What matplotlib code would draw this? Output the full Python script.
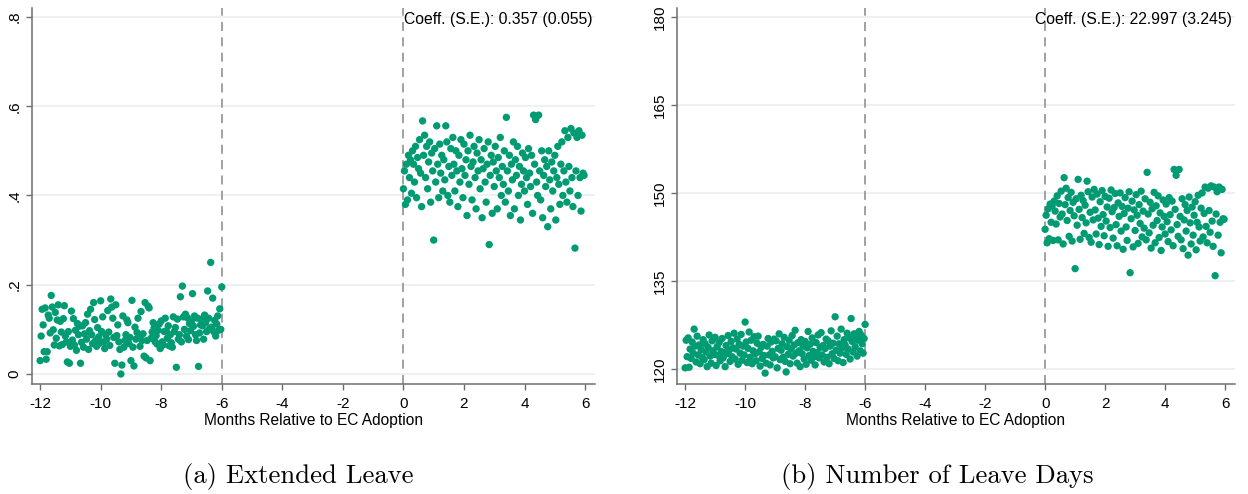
"""
Scatter of daily outcomes around EC adoption (two panels)
"""
import numpy as np
import matplotlib
matplotlib.use("Agg")
import matplotlib.pyplot as plt

# --- data ------------------------------------------------------------------
# days relative to adoption, expressed in months (30 days = 1 month)
x_pre = np.arange(-360, -179) / 30.0      # -12 ... -6
x_post = np.arange(0, 180) / 30.0         # 0 ... 5.97

# panel (a): share taking extended leave
share_pre = [
    0.030, 0.085, 0.145, 0.110, 0.050, 0.148, 0.033, 0.050, 0.132, 0.125,
    0.092, 0.176, 0.150, 0.099, 0.065, 0.138, 0.080, 0.121, 0.155, 0.063,
    0.118, 0.094, 0.066, 0.124, 0.153, 0.085, 0.072, 0.027, 0.095, 0.024,
    0.062, 0.141, 0.076, 0.124, 0.065, 0.098, 0.053, 0.113, 0.088, 0.107,
    0.024, 0.071, 0.108, 0.060, 0.090, 0.115, 0.078, 0.134, 0.055, 0.097,
    0.145, 0.088, 0.068, 0.160, 0.122, 0.075, 0.062, 0.104, 0.083, 0.069,
    0.164, 0.095, 0.128, 0.072, 0.057, 0.088, 0.078, 0.142, 0.094, 0.064,
    0.168, 0.150, 0.125, 0.082, 0.024, 0.155, 0.086, 0.110, 0.072, 0.055,
    0.000, 0.020, 0.130, 0.060, 0.075, 0.088, 0.121, 0.115, 0.068, 0.082,
    0.030, 0.165, 0.060, 0.018, 0.105, 0.078, 0.093, 0.125, 0.084, 0.062,
    0.140, 0.075, 0.090, 0.040, 0.160, 0.036, 0.075, 0.152, 0.148, 0.030,
    0.080, 0.094, 0.115, 0.104, 0.072, 0.086, 0.067, 0.098, 0.112, 0.057,
    0.119, 0.072, 0.065, 0.095, 0.125, 0.097, 0.080, 0.108, 0.063, 0.088,
    0.070, 0.060, 0.128, 0.095, 0.104, 0.015, 0.123, 0.078, 0.088, 0.173,
    0.072, 0.197, 0.128, 0.100, 0.134, 0.085, 0.126, 0.077, 0.113, 0.097,
    0.118, 0.180, 0.107, 0.130, 0.088, 0.075, 0.125, 0.017, 0.092, 0.110,
    0.123, 0.108, 0.078, 0.132, 0.115, 0.095, 0.186, 0.125, 0.102, 0.250,
    0.105, 0.170, 0.095, 0.120, 0.085, 0.112, 0.130, 0.098, 0.146, 0.100,
    0.195,
]
share_post = [
    0.415, 0.455, 0.380, 0.470, 0.390, 0.490, 0.440, 0.480, 0.405, 0.500,
    0.470, 0.430, 0.510, 0.395, 0.485, 0.460, 0.525, 0.450, 0.375, 0.567,
    0.490, 0.535, 0.440, 0.510, 0.415, 0.475, 0.520, 0.385, 0.495, 0.455,
    0.300, 0.505, 0.430, 0.556, 0.470, 0.395, 0.515, 0.450, 0.490, 0.410,
    0.480, 0.435, 0.556, 0.520, 0.400, 0.465, 0.385, 0.505, 0.445, 0.530,
    0.470, 0.410, 0.500, 0.455, 0.375, 0.490, 0.430, 0.525, 0.460, 0.395,
    0.515, 0.445, 0.480, 0.355, 0.500, 0.425, 0.535, 0.465, 0.390, 0.475,
    0.510, 0.440, 0.370, 0.495, 0.455, 0.525, 0.415, 0.480, 0.350, 0.460,
    0.505, 0.430, 0.385, 0.470, 0.520, 0.290, 0.445, 0.490, 0.360, 0.475,
    0.420, 0.510, 0.455, 0.370, 0.485, 0.440, 0.530, 0.400, 0.465, 0.425,
    0.500, 0.385, 0.575, 0.455, 0.410, 0.490, 0.355, 0.470, 0.435, 0.520,
    0.370, 0.480, 0.445, 0.510, 0.400, 0.465, 0.345, 0.425, 0.495, 0.455,
    0.410, 0.485, 0.440, 0.380, 0.505, 0.450, 0.420, 0.490, 0.360, 0.580,
    0.470, 0.570, 0.430, 0.400, 0.580, 0.455, 0.390, 0.500, 0.350, 0.445,
    0.480, 0.420, 0.465, 0.330, 0.500, 0.435, 0.370, 0.475, 0.410, 0.455,
    0.490, 0.345, 0.440, 0.510, 0.425, 0.380, 0.470, 0.520, 0.400, 0.455,
    0.545, 0.430, 0.385, 0.530, 0.465, 0.410, 0.550, 0.440, 0.375, 0.540,
    0.282, 0.455, 0.530, 0.400, 0.545, 0.440, 0.365, 0.535, 0.450, 0.445,
]

# panel (b): number of leave days
days_pre = [
    120.2, 124.9, 122.1, 125.3, 120.3, 123.4, 121.8, 124.6, 122.7, 126.8,
    123.9, 121.2, 125.6, 122.4, 124.1, 120.9, 123.3, 122.0, 125.0, 121.6,
    124.3, 122.9, 120.4, 123.7, 125.8, 122.2, 121.0, 124.8, 123.1, 122.5,
    125.4, 120.6, 123.8, 122.3, 124.5, 121.4, 123.0, 125.2, 121.9, 122.8,
    120.4, 124.0, 122.6, 125.7, 123.2, 121.3, 124.7, 122.1, 123.6, 126.1,
    121.7, 123.4, 125.1, 120.8, 124.2, 122.7, 125.9, 121.5, 123.9, 122.4,
    128.0, 124.6, 121.1, 123.5, 126.3, 122.0, 124.9, 120.9, 123.1, 125.5,
    122.6, 121.4, 124.4, 125.6, 122.9, 120.5, 123.7, 121.8, 124.2, 122.3,
    119.3, 121.0, 123.9, 125.2, 122.4, 120.7, 124.6, 123.0, 121.9, 125.1,
    122.1, 124.8, 120.2, 123.5, 126.0, 121.6, 123.2, 124.3, 122.0, 125.4,
    121.3, 119.5, 123.8, 122.5, 124.9, 120.9, 123.4, 125.7, 122.2, 124.1,
    126.6, 122.7, 121.0, 124.5, 123.1, 120.4, 125.0, 122.6, 123.9, 121.7,
    124.7, 120.8, 123.6, 126.4, 122.3, 124.2, 121.5, 125.3, 123.0, 122.1,
    120.7, 124.5, 122.8, 125.8, 121.9, 123.7, 126.2, 122.4, 124.0, 121.2,
    123.5, 125.1, 122.0, 124.8, 120.9, 123.9, 126.5, 122.6, 124.4, 121.8,
    128.9, 123.2, 125.6, 121.4, 124.3, 122.7, 126.8, 123.6, 121.1, 125.0,
    124.1, 122.5, 126.1, 123.4, 125.3, 121.7, 128.6, 124.7, 122.9, 126.0,
    123.8, 125.5, 122.2, 124.9, 126.4, 123.1, 125.8, 124.3, 122.7, 125.2,
    127.6,
]
days_post = [
    143.8, 146.2, 141.5, 147.3, 142.2, 148.1, 145.0, 147.8, 141.9, 148.6,
    146.9, 144.7, 149.5, 142.0, 148.2, 145.9, 150.3, 146.4, 141.3, 152.6,
    148.0, 150.8, 145.3, 149.2, 142.6, 147.0, 150.1, 141.8, 148.4, 146.1,
    137.1, 149.0, 144.5, 152.3, 147.2, 142.1, 149.6, 145.8, 148.7, 143.1,
    147.9, 144.9, 152.0, 150.2, 142.4, 146.7, 141.6, 149.3, 145.4, 150.6,
    147.1, 143.0, 149.8, 145.7, 141.2, 148.5, 144.3, 150.4, 146.3, 142.7,
    149.4, 145.2, 147.6, 140.9, 149.1, 144.1, 150.5, 146.8, 142.3, 147.5,
    149.9, 144.6, 141.0, 148.3, 146.0, 150.0, 143.5, 147.7, 140.4, 146.5,
    149.2, 144.2, 141.9, 147.4, 150.2, 136.4, 145.6, 148.6, 140.8, 147.1,
    143.6, 149.7, 146.2, 141.4, 148.0, 144.8, 150.3, 142.5, 146.9, 144.0,
    149.0, 142.0, 153.5, 146.4, 143.2, 148.4, 140.6, 147.3, 144.5, 150.1,
    141.5, 147.8, 145.3, 149.5, 142.4, 146.6, 140.2, 144.2, 148.8, 146.0,
    143.0, 148.1, 145.1, 141.7, 149.2, 146.3, 143.7, 148.6, 141.0, 154.0,
    147.2, 153.0, 144.6, 142.6, 154.0, 146.0, 142.0, 149.0, 140.5, 145.4,
    148.0, 143.5, 147.0, 139.4, 149.3, 144.9, 141.3, 147.6, 142.8, 146.2,
    148.5, 140.3, 145.0, 149.6, 144.2, 141.8, 147.4, 150.0, 142.5, 146.5,
    151.0, 144.3, 141.5, 150.8, 147.0, 143.3, 151.2, 145.2, 140.9, 151.0,
    135.9, 146.4, 150.2, 142.8, 151.0, 145.0, 139.8, 150.6, 145.6, 145.5,
]

x_ticks = [-12, -10, -8, -6, -4, -2, 0, 2, 4, 6]
a_yticks = [0, 0.2, 0.4, 0.6, 0.8]
a_ylabels = ["0", ".2", ".4", ".6", ".8"]
b_yticks = [120, 135, 150, 165, 180]
b_ylabels = ["120", "135", "150", "165", "180"]
cut_lines = [-6, 0]

DOT = "#009B72"
GRID = "#EAF1F3"
AXIS = "#6E6E6E"

plt.rcParams["font.family"] = ["Liberation Sans", "DejaVu Sans"]

fig = plt.figure(figsize=(12.48, 4.94), dpi=100)
ax_a = fig.add_axes([0.0256, 0.2227, 0.4512, 0.7611])
ax_b = fig.add_axes([0.5425, 0.2227, 0.4471, 0.7611])


def draw_panel(ax, pre, post, yticks, ylabels, ylim, coeff_txt):
    # horizontal grid at the y ticks
    for yv in yticks:
        ax.axhline(yv, color=GRID, linewidth=1.3, zorder=0)
    # dashed cut-off lines
    for xv in cut_lines:
        ax.axvline(xv, color="#9A9A9A", linewidth=1.3, linestyle=(0, (5, 3.5)), zorder=1)
    ax.scatter(x_pre, pre, s=28, color=DOT, edgecolors="none", zorder=3)
    ax.scatter(x_post, post, s=28, color=DOT, edgecolors="none", zorder=3)

    ax.set_xlim(-12.27, 6.33)
    ax.set_ylim(*ylim)
    ax.set_xticks(x_ticks)
    ax.set_xticklabels([str(t) for t in x_ticks])
    ax.set_yticks(yticks)
    ax.set_yticklabels(ylabels, rotation=90, va="center")
    ax.tick_params(axis="both", direction="out", length=4.5, width=1.0,
                   color=AXIS, labelsize=11, pad=3)
    ax.tick_params(axis="x", pad=5)
    for side in ["top", "right"]:
        ax.spines[side].set_visible(False)
    for side in ["left", "bottom"]:
        ax.spines[side].set_color(AXIS)
        ax.spines[side].set_linewidth(1.1)
    ax.set_xlabel("Months Relative to EC Adoption", fontsize=11.2, labelpad=1)
    ax.text(0.995, 0.99, coeff_txt, transform=ax.transAxes,
            ha="right", va="top", fontsize=11.3)


draw_panel(ax_a, share_pre, share_post, a_yticks, a_ylabels, (-0.0224, 0.82),
           "Coeff. (S.E.): 0.357 (0.055)")
draw_panel(ax_b, days_pre, days_post, b_yticks, b_ylabels, (117.45, 181.5),
           "Coeff. (S.E.): 22.997 (3.245)")

# sub-captions under each panel
fig.text(0.2388, 0.036, "(a) Extended Leave", ha="center", va="center",
         fontsize=19.2, family="cmr10")
fig.text(0.7508, 0.036, "(b) Number of Leave Days", ha="center", va="center",
         fontsize=19.2, family="cmr10")

fig.savefig("out.png", dpi=100)
plt.close(fig)
